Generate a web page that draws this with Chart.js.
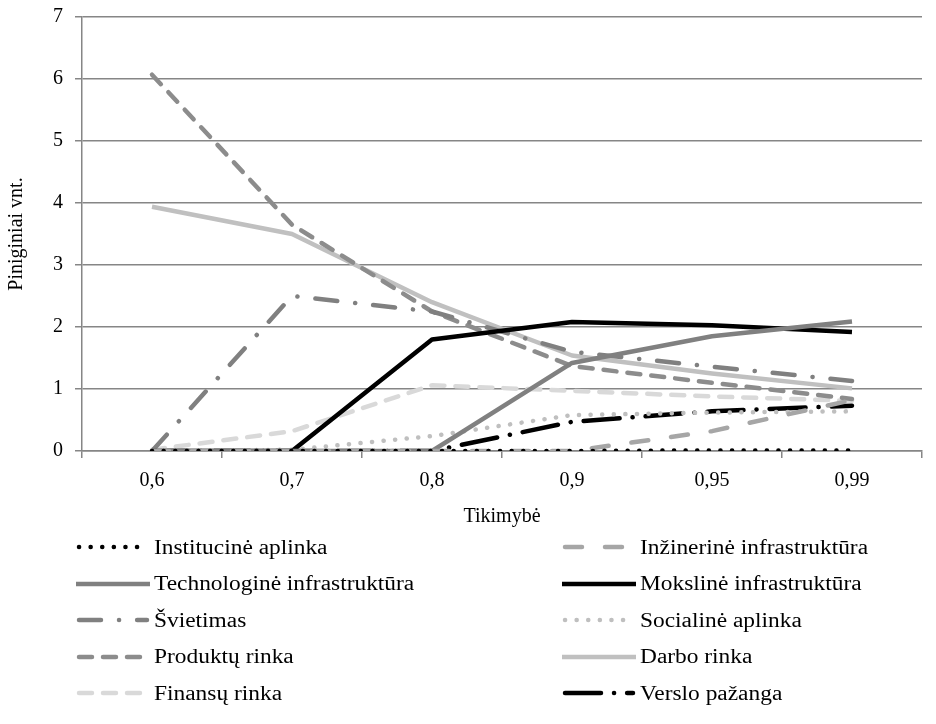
<!DOCTYPE html>
<html>
<head>
<meta charset="utf-8">
<script src="https://cdn.jsdelivr.net/npm/chart.js@4.4.1/dist/chart.umd.min.js"></script>
<style>
  body { margin: 0; background: #fff; font-family: "Liberation Serif", serif; }
  #wrap { position: relative; width: 936px; height: 724px; overflow: hidden; }
  #chart-box { position: absolute; left: 0; top: -7px; width: 936px; height: 544px; }
  #legend { position: absolute; left: 0; top: 0; width: 936px; height: 724px; pointer-events: none; }
  .item { position: absolute; display: flex; align-items: center; font-size: 20px; color: #000; height: 24px; white-space: nowrap; }
  .item span { display: inline-block; transform: scaleX(1.17); transform-origin: left center; }
</style>
</head>
<body>
<div id="wrap">
  <div id="chart-box"><canvas id="c"></canvas></div>
  <div id="legend"></div>
</div>
<script>
const kategorijos = ["0,6", "0,7", "0,8", "0,9", "0,95", "0,99"];
const yTicks = [0, 1, 2, 3, 4, 5, 6, 7];

const institucine = [0, 0, 0, 0, 0.01, 0.01];
const inzinerine = [0, 0, 0, 0, 0.32, 0.82];
const technologine = [0, 0, 0, 1.42, 1.85, 2.09];
const moksline = [0, 0, 1.8, 2.08, 2.03, 1.92];
const svietimas = [0, 2.5, 2.25, 1.6, 1.36, 1.13];
const socialine = [0, 0.02, 0.24, 0.58, 0.62, 0.64];
const produktu = [6.07, 3.65, 2.25, 1.37, 1.1, 0.84];
const darbo = [3.94, 3.5, 2.4, 1.54, 1.25, 1.01];
const finansu = [0.02, 0.32, 1.06, 0.97, 0.88, 0.81];
const verslo = [0, 0, 0, 0.47, 0.64, 0.73];

// stiliai: spalva, bruksnys, galas
const serijos = [
  { label: "Institucinė aplinka", data: institucine, color: "#000000", dash: [0.1, 11.5], cap: "round" },
  { label: "Inžinerinė infrastruktūra", data: inzinerine, color: "#a6a6a6", dash: [17, 23], cap: "round" },
  { label: "Technologinė infrastruktūra", data: technologine, color: "#808080", dash: [], cap: "butt" },
  { label: "Mokslinė infrastruktūra", data: moksline, color: "#000000", dash: [], cap: "butt" },
  { label: "Švietimas", data: svietimas, color: "#808080", dash: [22, 18, 0.1, 18], cap: "round" },
  { label: "Socialinė aplinka", data: socialine, color: "#bfbfbf", dash: [0.1, 11.5], cap: "round" },
  { label: "Produktų rinka", data: produktu, color: "#8c8c8c", dash: [13, 11], cap: "round" },
  { label: "Darbo rinka", data: darbo, color: "#c0c0c0", dash: [], cap: "butt" },
  { label: "Finansų rinka", data: finansu, color: "#d9d9d9", dash: [13, 11], cap: "round" },
  { label: "Verslo pažanga", data: verslo, color: "#000000", dash: [36, 13, 0.1, 13], cap: "round" }
];

const datasets = serijos.map(s => ({
  label: s.label,
  data: s.data,
  borderColor: s.color,
  backgroundColor: s.color,
  borderWidth: 4.5,
  borderDash: s.dash,
  borderCapStyle: s.cap,
  borderJoinStyle: "round",
  pointRadius: 0,
  tension: 0,
  fill: false
}));

const font = { family: "Liberation Serif", size: 20 };

new Chart(document.getElementById("c"), {
  type: "line",
  data: { labels: kategorijos, datasets: datasets },
  options: {
    responsive: true,
    maintainAspectRatio: false,
    animation: false,
    layout: { padding: { left: 5, right: 14, top: 5, bottom: 4 } },
    plugins: { legend: { display: false }, tooltip: { enabled: false } },
    scales: {
      x: {
        offset: true,
        grid: { display: true, drawOnChartArea: false, offset: true, color: "#868686", lineWidth: 1.5, tickLength: 7 },
        border: { color: "#868686", width: 1.5 },
        ticks: { color: "#000", font: font, padding: 11 },
        title: { display: true, text: "Tikimybė", color: "#000", font: font, padding: { top: 1, bottom: 4 } }
      },
      y: {
        min: 0,
        max: 7,
        afterBuildTicks: ax => { ax.ticks = yTicks.map(v => ({ value: v })); },
        grid: { color: "#868686", lineWidth: 1.5, tickLength: 7 },
        border: { color: "#868686", width: 1.5 },
        ticks: { color: "#000", font: font, padding: 12 },
        title: { display: true, text: "Piniginiai vnt.", color: "#000", font: font, padding: { top: 0, bottom: 12 } }
      }
    }
  }
});

// legenda: du stulpeliai
const legend = document.getElementById("legend");
serijos.forEach((s, i) => {
  const col = i % 2, row = Math.floor(i / 2);
  const div = document.createElement("div");
  div.className = "item";
  div.style.left = (col === 0 ? 74 : 560) + "px";
  div.style.top = (535 + row * 36.5) + "px";
  const dashAttr = s.dash.length ? 'stroke-dasharray="' + s.dash.join(" ") + '"' : "";
  const pad = s.cap === "round" ? 5 : 2;
  div.innerHTML = '<svg width="80" height="10"><line x1="' + pad + '" y1="5" x2="' + (78 - pad) + '" y2="5" stroke="' + s.color +
    '" stroke-width="4.5" stroke-linecap="' + s.cap + '" ' + dashAttr + '/></svg><span>' + s.label + '</span>';
  legend.appendChild(div);
});
</script>
</body>
</html>
